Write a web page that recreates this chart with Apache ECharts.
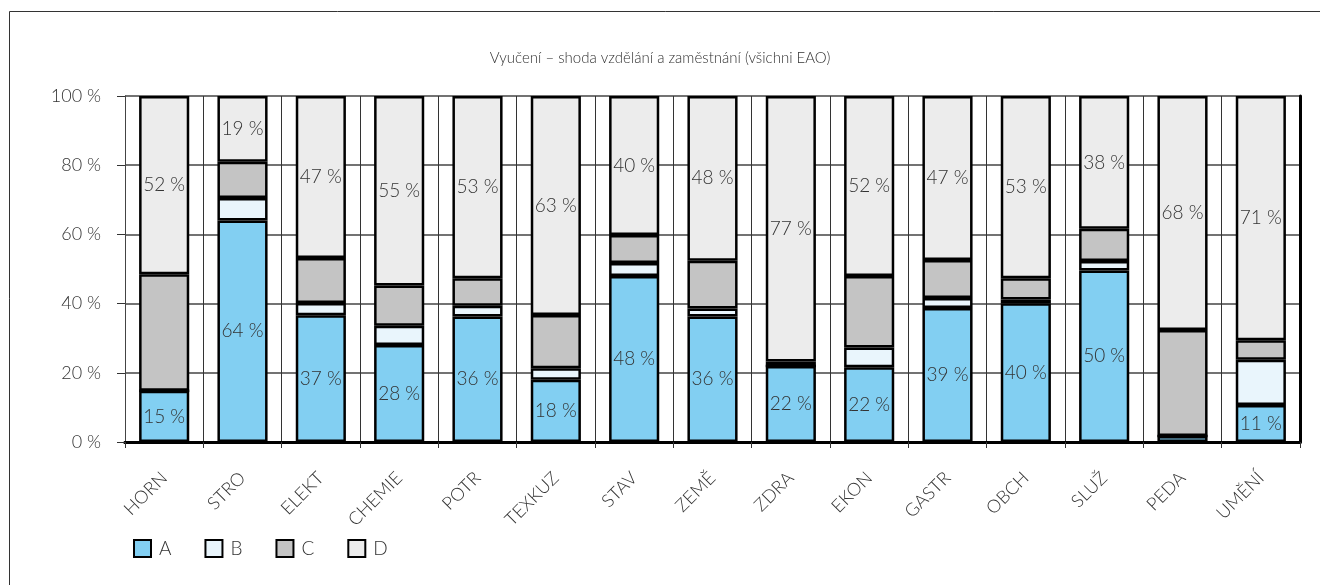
<!DOCTYPE html>
<html>
<head>
<meta charset="utf-8">
<script src="https://cdn.jsdelivr.net/npm/echarts@6/dist/echarts.min.js"></script>
<style>
html,body{margin:0;padding:0;background:#fff;}
#chart{width:1320px;height:585px;}
</style>
</head>
<body>
<div id="chart"></div>
<script>
const titleText = 'Vyučení – shoda vzdělání a zaměstnání (všichni EAO)';
const categories = ['HORN','STRO','ELEKT','CHEMIE','POTR','TEXKUZ','STAV','ZEMĚ','ZDRA','EKON','GASTR','OBCH','SLUŽ','PEDA','UMĚNÍ'];
const valuesA = [14.8, 64.0, 36.6, 28.0, 36.3, 18.0, 48.0, 36.3, 22.0, 21.6, 38.7, 40.1, 49.6, 1.7, 10.7];
const valuesB = [0, 6.5, 3.6, 5.6, 3.1, 3.3, 3.7, 2.3, 0, 5.7, 2.9, 1.1, 2.7, 0, 13.1];
const valuesC = [33.7, 10.5, 13.0, 11.6, 7.9, 15.4, 8.1, 13.8, 1.3, 20.7, 11.0, 6.1, 9.3, 30.7, 5.6];
const valuesD = [51.5, 19.0, 46.8, 54.8, 52.7, 63.3, 40.2, 47.6, 76.7, 52.0, 47.4, 52.7, 38.4, 67.6, 70.6];
const yTicks = [0, 20, 40, 60, 80, 100];

const FONT = 'Lato, "Open Sans", sans-serif';
const colors = {A:'#82CFF2', B:'#E9F5FC', C:'#C4C4C4', D:'#ECECEC'};

function lbl(show){
  return {
    show: show,
    position: 'inside',
    color: '#333',
    fontFamily: FONT,
    fontWeight: 300,
    fontSize: 19,
    formatter: p => (p.value >= 5 ? Math.round(p.value) + ' %' : '')
  };
}
function mk(name, data, showLabel){
  return {
    name: name, type: 'bar', stack: 'total', data: data,
    barWidth: '64%',
    itemStyle: {color: colors[name], borderColor: '#000', borderWidth: 2.5},
    label: lbl(showLabel),
    emphasis: {disabled: true}
  };
}

const chart = echarts.init(document.getElementById('chart'), null, {renderer:'canvas'});
chart.setOption({
  animation: false,
  backgroundColor: '#fff',
  textStyle: {fontFamily: FONT},
  graphic: [{
    type: 'rect', silent: true,
    shape: {x: 9.5, y: 11.5, width: 1330, height: 600},
    style: {fill: 'none', stroke: '#333', lineWidth: 1}
  }],
  title: {
    text: titleText, left: 'center', top: 46,
    textStyle: {fontFamily: FONT, fontWeight: 300, fontSize: 15, color: '#333'}
  },
  legend: {
    left: 128, top: 534, itemWidth: 17, itemHeight: 17, itemGap: 33,
    icon: 'rect',
    textStyle: {fontFamily: FONT, fontWeight: 300, fontSize: 19, color: '#333', padding: [0,0,0,3]},
    data: ['A','B','C','D']
  },
  grid: {left: 125, right: 20, top: 96, bottom: 143, containLabel: false},
  xAxis: [{
    type: 'category', data: categories, position: 'bottom',
    axisLine: {show: true, lineStyle: {color: '#000', width: 3}},
    axisTick: {show: true, alignWithLabel: false, length: 6, lineStyle: {color: '#333', width: 1}},
    splitLine: {show: true, lineStyle: {color: '#333', width: 1}},
    axisLabel: {rotate: 45, margin: 33, fontFamily: FONT, fontWeight: 300, fontSize: 18, color: '#333', interval: 0}
  },{
    type: 'category', data: categories, position: 'top',
    axisLine: {show: true, lineStyle: {color: '#000', width: 3}},
    axisTick: {show: false}, axisLabel: {show: false}, splitLine: {show: false}
  }],
  yAxis: [{
    type: 'value', min: yTicks[0], max: yTicks[yTicks.length-1], interval: 20,
    axisLine: {show: true, lineStyle: {color: '#444', width: 1}},
    axisTick: {show: true, length: 8, lineStyle: {color: '#333'}},
    splitLine: {show: true, lineStyle: {color: '#444', width: 1.5}},
    axisLabel: {formatter: '{value} %', margin: 24, fontFamily: FONT, fontWeight: 300, fontSize: 18, color: '#333'}
  },{
    type: 'value', min: 0, max: 100, interval: 20, position: 'right',
    axisLine: {show: true, lineStyle: {color: '#000', width: 3}},
    axisTick: {show: false}, axisLabel: {show: false}, splitLine: {show: false}
  }],
  series: [
    mk('A', valuesA, true),
    mk('B', valuesB, false),
    mk('C', valuesC, false),
    mk('D', valuesD, true)
  ]
});
</script>
</body>
</html>
